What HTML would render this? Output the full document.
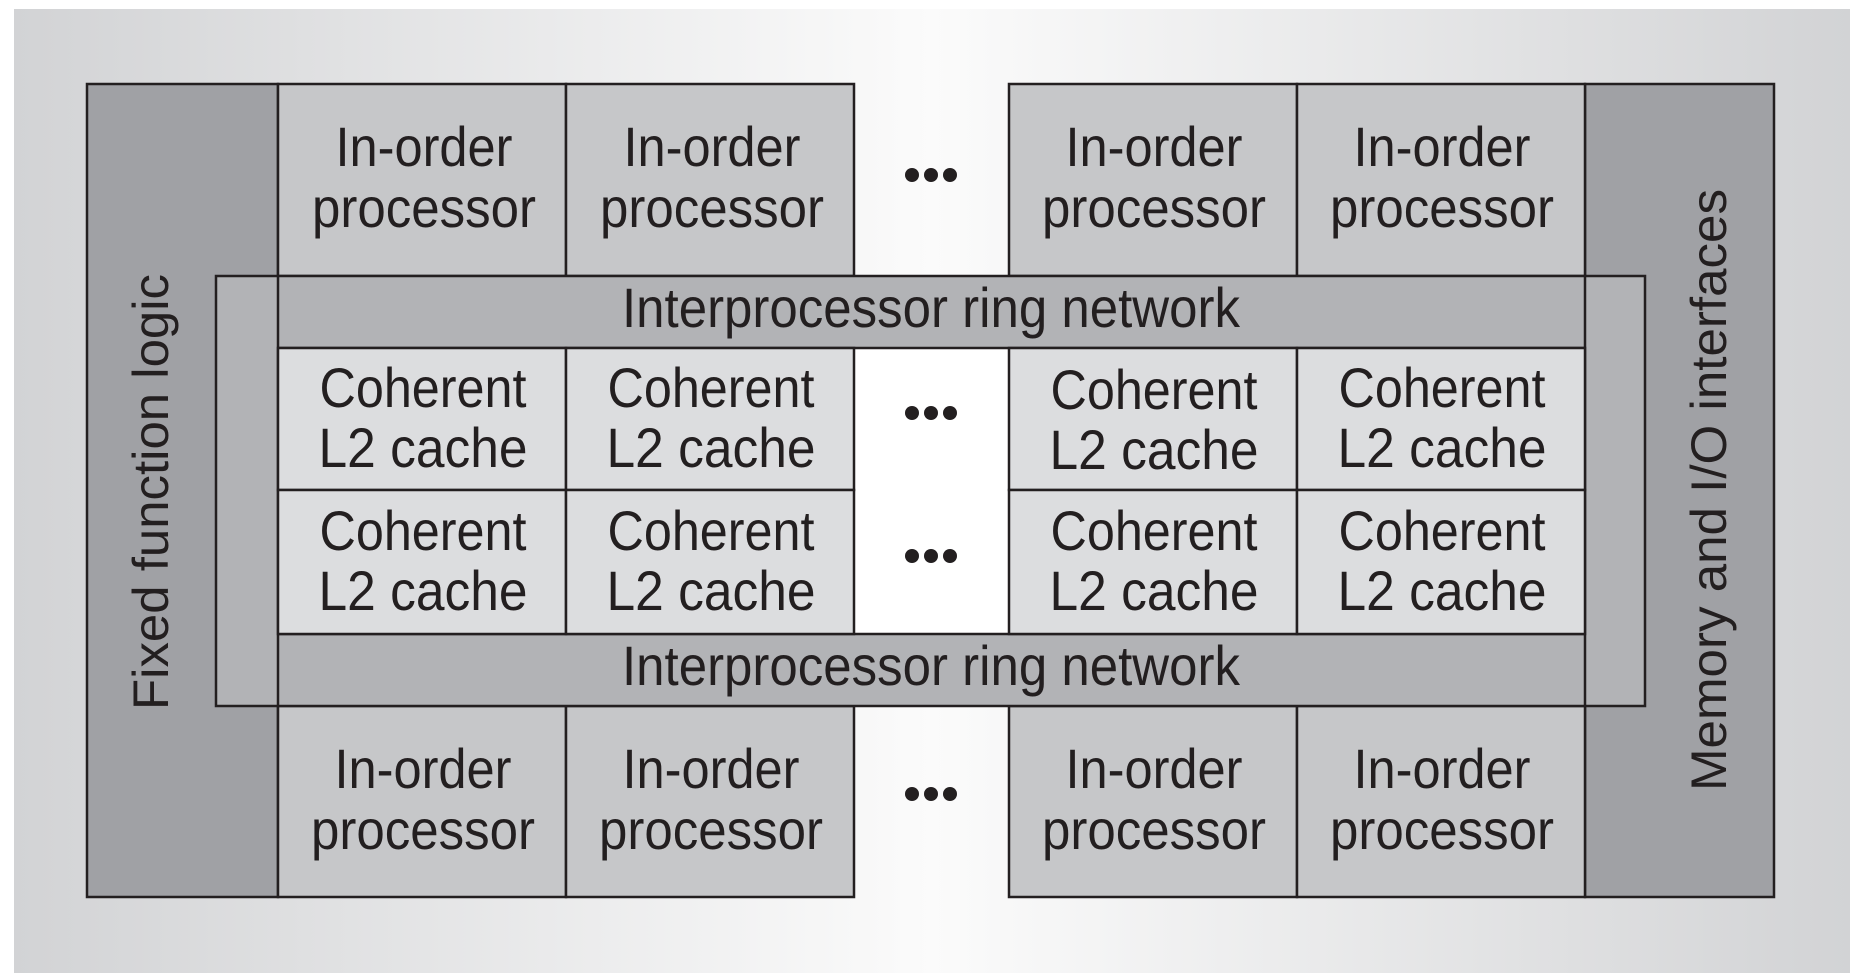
<!DOCTYPE html>
<html><head><meta charset="utf-8"><style>
html,body{margin:0;padding:0;background:#fff;}
svg{display:block;}
text{font-family:"Liberation Sans",sans-serif;fill:#231f20;}
</style></head><body>
<svg width="1850" height="980" viewBox="0 0 1850 980" xmlns="http://www.w3.org/2000/svg">
<defs>
<linearGradient id="bg" x1="0" y1="0" x2="1" y2="0">
<stop offset="0" stop-color="#d2d3d5"/>
<stop offset="0.5" stop-color="#fbfbfb"/>
<stop offset="1" stop-color="#d2d3d5"/>
</linearGradient>
</defs>
<rect x="0" y="0" width="1850" height="980" fill="#fff"/>
<rect x="14" y="9" width="1836" height="964" fill="url(#bg)"/>
<g stroke="#231f20" stroke-width="2.5">
<!-- side columns -->
<rect x="87" y="84" width="191" height="813" fill="#a0a1a5"/>
<rect x="1585" y="84" width="189" height="813" fill="#a0a1a5"/>
<!-- top processors -->
<rect x="278" y="84" width="288" height="192" fill="#c6c7c9"/>
<rect x="566" y="84" width="288" height="192" fill="#c6c7c9"/>
<rect x="1009" y="84" width="288" height="192" fill="#c6c7c9"/>
<rect x="1297" y="84" width="288" height="192" fill="#c6c7c9"/>
<!-- bottom processors -->
<rect x="278" y="706" width="288" height="191" fill="#c6c7c9"/>
<rect x="566" y="706" width="288" height="191" fill="#c6c7c9"/>
<rect x="1009" y="706" width="288" height="191" fill="#c6c7c9"/>
<rect x="1297" y="706" width="288" height="191" fill="#c6c7c9"/>
<!-- inner box -->
<rect x="216" y="276" width="1429" height="430" fill="#b2b3b6"/>
<rect x="278" y="348" width="576" height="286" fill="#fff" stroke="none"/>
<rect x="1009" y="348" width="576" height="286" fill="#fff" stroke="none"/>
<rect x="854" y="348" width="155" height="286" fill="#fff" stroke="none"/>
<line x1="278" y1="276" x2="278" y2="706"/>
<line x1="1585" y1="276" x2="1585" y2="706"/>
<line x1="278" y1="348" x2="1585" y2="348"/>
<line x1="278" y1="634" x2="1585" y2="634"/>
<!-- caches -->
<rect x="278" y="348" width="288" height="142" fill="#dcdddf"/>
<rect x="566" y="348" width="288" height="142" fill="#dcdddf"/>
<rect x="1009" y="348" width="288" height="142" fill="#dcdddf"/>
<rect x="1297" y="348" width="288" height="142" fill="#dcdddf"/>
<rect x="278" y="490" width="288" height="144" fill="#dcdddf"/>
<rect x="566" y="490" width="288" height="144" fill="#dcdddf"/>
<rect x="1009" y="490" width="288" height="144" fill="#dcdddf"/>
<rect x="1297" y="490" width="288" height="144" fill="#dcdddf"/>
</g>
<!-- dots -->
<g fill="#231f20">
<circle cx="912" cy="175" r="7"/><circle cx="931" cy="175" r="7"/><circle cx="950" cy="175" r="7"/>
<circle cx="912" cy="413" r="7"/><circle cx="931" cy="413" r="7"/><circle cx="950" cy="413" r="7"/>
<circle cx="912" cy="556" r="7"/><circle cx="931" cy="556" r="7"/><circle cx="950" cy="556" r="7"/>
<circle cx="912" cy="794" r="7"/><circle cx="931" cy="794" r="7"/><circle cx="950" cy="794" r="7"/>
</g>
<g font-size="56" text-anchor="middle" lengthAdjust="spacingAndGlyphs">
<!-- top processors -->
<text x="424" y="166" textLength="177" lengthAdjust="spacingAndGlyphs">In-order</text>
<text x="424" y="227" textLength="224" lengthAdjust="spacingAndGlyphs">processor</text>
<text x="712" y="166" textLength="177" lengthAdjust="spacingAndGlyphs">In-order</text>
<text x="712" y="227" textLength="224" lengthAdjust="spacingAndGlyphs">processor</text>
<text x="1154" y="166" textLength="177" lengthAdjust="spacingAndGlyphs">In-order</text>
<text x="1154" y="227" textLength="224" lengthAdjust="spacingAndGlyphs">processor</text>
<text x="1442" y="166" textLength="177" lengthAdjust="spacingAndGlyphs">In-order</text>
<text x="1442" y="227" textLength="224" lengthAdjust="spacingAndGlyphs">processor</text>
<!-- bottom processors -->
<text x="423" y="788" textLength="177" lengthAdjust="spacingAndGlyphs">In-order</text>
<text x="423" y="849" textLength="224" lengthAdjust="spacingAndGlyphs">processor</text>
<text x="711" y="788" textLength="177" lengthAdjust="spacingAndGlyphs">In-order</text>
<text x="711" y="849" textLength="224" lengthAdjust="spacingAndGlyphs">processor</text>
<text x="1154" y="788" textLength="177" lengthAdjust="spacingAndGlyphs">In-order</text>
<text x="1154" y="849" textLength="224" lengthAdjust="spacingAndGlyphs">processor</text>
<text x="1442" y="788" textLength="177" lengthAdjust="spacingAndGlyphs">In-order</text>
<text x="1442" y="849" textLength="224" lengthAdjust="spacingAndGlyphs">processor</text>
<!-- rings -->
<text x="931" y="327" textLength="618" lengthAdjust="spacingAndGlyphs">Interprocessor ring network</text>
<text x="931" y="685" textLength="618" lengthAdjust="spacingAndGlyphs">Interprocessor ring network</text>
<!-- caches -->
<text x="423" y="407" textLength="207" lengthAdjust="spacingAndGlyphs">Coherent</text>
<text x="423" y="467" textLength="209" lengthAdjust="spacingAndGlyphs">L2 cache</text>
<text x="711" y="407" textLength="207" lengthAdjust="spacingAndGlyphs">Coherent</text>
<text x="711" y="467" textLength="209" lengthAdjust="spacingAndGlyphs">L2 cache</text>
<text x="1154" y="409" textLength="207" lengthAdjust="spacingAndGlyphs">Coherent</text>
<text x="1154" y="469" textLength="209" lengthAdjust="spacingAndGlyphs">L2 cache</text>
<text x="1442" y="407" textLength="207" lengthAdjust="spacingAndGlyphs">Coherent</text>
<text x="1442" y="467" textLength="209" lengthAdjust="spacingAndGlyphs">L2 cache</text>
<text x="423" y="550" textLength="207" lengthAdjust="spacingAndGlyphs">Coherent</text>
<text x="423" y="610" textLength="209" lengthAdjust="spacingAndGlyphs">L2 cache</text>
<text x="711" y="550" textLength="207" lengthAdjust="spacingAndGlyphs">Coherent</text>
<text x="711" y="610" textLength="209" lengthAdjust="spacingAndGlyphs">L2 cache</text>
<text x="1154" y="550" textLength="207" lengthAdjust="spacingAndGlyphs">Coherent</text>
<text x="1154" y="610" textLength="209" lengthAdjust="spacingAndGlyphs">L2 cache</text>
<text x="1442" y="550" textLength="207" lengthAdjust="spacingAndGlyphs">Coherent</text>
<text x="1442" y="610" textLength="209" lengthAdjust="spacingAndGlyphs">L2 cache</text>
</g>
<text x="0" y="0" font-size="50" text-anchor="middle" textLength="436" lengthAdjust="spacingAndGlyphs" transform="translate(168,492) rotate(-90)">Fixed function logic</text>
<text x="0" y="0" font-size="50" text-anchor="middle" textLength="602" lengthAdjust="spacingAndGlyphs" transform="translate(1726,490) rotate(-90)">Memory and I/O interfaces</text>
</svg>
</body></html>
